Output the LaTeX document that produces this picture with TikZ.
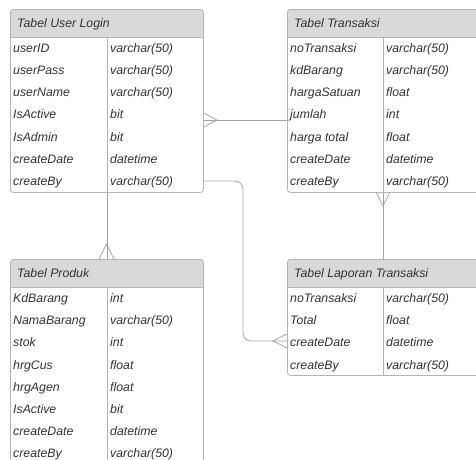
\documentclass[tikz,border=0pt]{standalone}
\usepackage{fontspec}
\setmainfont{Liberation Sans}

\definecolor{tblgray}{HTML}{B4B4B4}
\definecolor{headgray}{HTML}{D9D9D9}
\definecolor{linkgray}{HTML}{A3A3A3}
\definecolor{txtgray}{HTML}{333333}

\tikzset{
  tbl/.style={draw=tblgray, fill=white, rounded corners=3pt, anchor=north west,
    inner sep=0pt, line width=0.8pt,
    path picture={\fill[headgray] (path picture bounding box.north west)
      rectangle ([yshift=-28pt]path picture bounding box.north east);}},
  field/.style={anchor=base west, text=txtgray, inner sep=0pt,
    font=\fontsize{12.3}{14}\selectfont\itshape},
  rel/.style={draw=linkgray, line width=0.8pt},
  sep/.style={draw=tblgray, line width=0.8pt},
}

\begin{document}
\begin{tikzpicture}[x=1pt,y=-1pt]
            \useasboundingbox (0,0) rectangle (476,459);
            \clip (0,0) rectangle (476,459);

            % tables
            \node[tbl, minimum width=193pt, minimum height=183pt] (login) at (10,9) {};
            \node[tbl, minimum width=192pt, minimum height=183pt] (transaksi) at (287,9) {};
            \node[tbl, minimum width=193pt, minimum height=215pt] (produk) at (10,259) {};
            \node[tbl, minimum width=192pt, minimum height=116pt] (laporan) at (287,259) {};

            \draw[sep] (login.west |- 0,37) -- (login.east |- 0,37);
            \draw[sep] (107,37) -- (107,192);
            \draw[sep] (transaksi.west |- 0,37) -- (transaksi.east |- 0,37);
            \draw[sep] (383,37) -- (383,192);
            \draw[sep] (produk.west |- 0,287) -- (produk.east |- 0,287);
            \draw[sep] (107,287) -- (107,474);
            \draw[sep] (laporan.west |- 0,287) -- (laporan.east |- 0,287);
            \draw[sep] (383,287) -- (383,375);

            \node[field] (login-title) at (17,27.5) {Tabel User Login};
            \node[field] (transaksi-title) at (294,27.5) {Tabel Transaksi};
            \node[field] (produk-title) at (17,277.5) {Tabel Produk};
            \node[field] (laporan-title) at (294,277.5) {Tabel Laporan Transaksi};

            \foreach \f/\t [count=\i] in {userID/varchar(50), userPass/varchar(50),
                userName/varchar(50), IsActive/bit, IsAdmin/bit,
                createDate/datetime, createBy/varchar(50)} {
                \node[field] (login-f\i) at (13,{37+(\i-0.5)*22.14+4.5}) {\f};
                \node[field] (login-t\i) at (110,{37+(\i-0.5)*22.14+4.5}) {\t};
            }
            \foreach \f/\t [count=\i] in {noTransaksi/varchar(50), kdBarang/varchar(50),
                hargaSatuan/float, jumlah/int, harga total/float,
                createDate/datetime, createBy/varchar(50)} {
                \node[field] (transaksi-f\i) at (290,{37+(\i-0.5)*22.14+4.5}) {\f};
                \node[field] (transaksi-t\i) at (386,{37+(\i-0.5)*22.14+4.5}) {\t};
            }
            \foreach \f/\t [count=\i] in {KdBarang/int, NamaBarang/varchar(50),
                stok/int, hrgCus/float, hrgAgen/float, IsActive/bit,
                createDate/datetime, createBy/varchar(50)} {
                \node[field] (produk-f\i) at (13,{287+(\i-0.5)*22.14+4.5}) {\f};
                \node[field] (produk-t\i) at (110,{287+(\i-0.5)*22.14+4.5}) {\t};
            }
            \foreach \f/\t [count=\i] in {noTransaksi/varchar(50), Total/float,
                createDate/datetime, createBy/varchar(50)} {
                \node[field] (laporan-f\i) at (290,{287+(\i-0.5)*22.14+4.5}) {\f};
                \node[field] (laporan-t\i) at (386,{287+(\i-0.5)*22.14+4.5}) {\t};
            }

            % relations
            \coordinate (foot1) at (217,120);
            \draw[rel] (login.east |- foot1) -- (transaksi.west |- foot1);
            \draw[rel] (login.east |- 0,113) -- (foot1) -- (login.east |- 0,127);

            \coordinate (foot2) at (273,341);
            \draw[rel, rounded corners=8pt] (login.east |- 0,181) -| (243,341) -- (laporan.west |- foot2);
            \draw[rel] (laporan.west |- 0,334) -- (foot2) -- (laporan.west |- 0,348);

            \coordinate (foot3) at (106.5,244);
            \draw[rel] (login.south) -- (produk.north);
            \draw[rel] (99,259) -- (foot3) -- (114,259);

            \coordinate (foot4) at (383,206);
            \draw[rel] (transaksi.south) -- (laporan.north);
            \draw[rel] (376,192) -- (foot4) -- (390,192);
\end{tikzpicture}
\end{document}
